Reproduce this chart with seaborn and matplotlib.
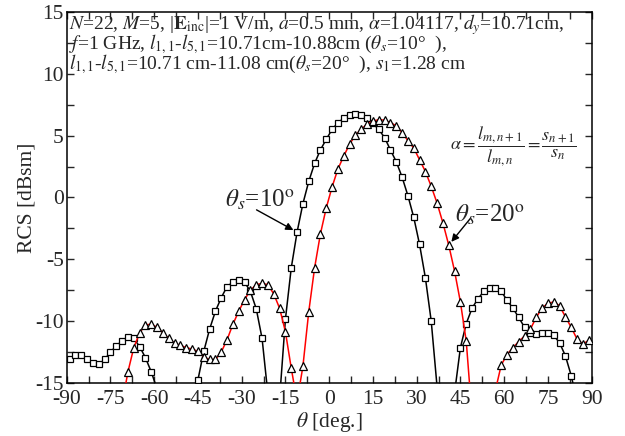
import numpy as np
import pandas as pd
import matplotlib
matplotlib.use("Agg")
import matplotlib.pyplot as plt
from matplotlib.ticker import MultipleLocator
import seaborn as sns

# Scan angle samples [deg]
theta_deg = [-89, -87, -85, -83, -81, -79, -77, -75, -73, -71,
             -69, -67, -65, -63, -61, -59, -57, -55, -53, -51,
             -49, -47, -45, -43, -41, -39, -37, -35, -33, -31,
             -29, -27, -25, -23, -21, -19, -17, -15, -13, -11,
             -9, -7, -5, -3, -1, 1, 3, 5, 7, 9,
             11, 13, 15, 17, 19, 21, 23, 25, 27, 29,
             31, 33, 35, 37, 39, 41, 43, 45, 47, 49,
             51, 53, 55, 57, 59, 61, 63, 65, 67, 69,
             71, 73, 75, 77, 79, 81, 83, 85, 87, 89]

# Bistatic RCS [dBsm], steering angle 10 deg
rcs_10 = [-13.1, -12.7, -12.7, -13.1, -13.4, -13.5, -13.1, -12.5, -12.0, -11.6,
          -11.25, -11.4, -12.05, -12.95, -14.1, -15.5, -18.0, -21.0, -24.0, -21.0,
          -18.5, -16.0, -14.75, -12.45, -10.65, -9.2, -8.1, -7.2, -6.85, -6.7,
          -6.85, -7.6, -9.0, -11.4, -15.9, -21.0, -16.3, -9.85, -5.7, -2.8,
          -0.5, 1.3, 2.75, 3.85, 4.7, 5.5, 6.05, 6.4, 6.65, 6.75,
          6.65, 6.4, 6.0, 5.5, 4.85, 3.85, 2.9, 1.65, 0.15, -1.6,
          -3.8, -6.5, -10.0, -15.3, -22.0, -21.0, -15.8, -12.15, -10.2, -8.95,
          -8.2, -7.6, -7.35, -7.35, -7.6, -8.3, -8.95, -9.7, -10.5, -10.95,
          -11.05, -10.95, -10.95, -11.15, -11.75, -12.8, -14.4, -16.5, -20.0, -23.0]

# Bistatic RCS [dBsm], steering angle 20 deg
rcs_20 = [-24.0, -22.0, -21.0, -22.0, -25.0, -28.0, -25.0, -21.0, -18.5, -16.7,
          -14.1, -12.15, -10.95, -10.3, -10.25, -10.5, -10.95, -11.4, -11.8, -11.95,
          -12.15, -12.25, -12.45, -12.9, -13.1, -13.1, -12.5, -11.5, -10.25, -9.2,
          -8.25, -7.5, -7.05, -6.95, -7.05, -7.8, -8.95, -10.85, -13.8, -16.5,
          -13.65, -9.25, -5.7, -2.95, -0.85, 0.85, 2.3, 3.35, 4.3, 5.05,
          5.5, 5.95, 6.15, 6.3, 6.25, 6.05, 5.8, 5.25, 4.6, 4.0,
          3.05, 2.1, 0.9, -0.45, -2.05, -3.85, -5.95, -8.45, -11.6, -17.7,
          -24.0, -26.0, -20.0, -15.6, -13.55, -12.7, -12.15, -11.65, -11.2, -10.65,
          -9.7, -8.95, -8.55, -8.45, -8.75, -9.65, -10.5, -11.45, -11.85, -11.55]

x_ticks = [-90, -75, -60, -45, -30, -15, 0, 15, 30, 45, 60, 75, 90]
y_ticks = [-15, -10, -5, 0, 5, 10, 15]

sns.set_style("ticks")
plt.rcParams["font.family"] = ["Liberation Serif", "DejaVu Serif"]
plt.rcParams["mathtext.fontset"] = "stix"
plt.rcParams["axes.unicode_minus"] = False

df10 = pd.DataFrame({"theta": theta_deg, "rcs": rcs_10})
df20 = pd.DataFrame({"theta": theta_deg, "rcs": rcs_20})

fig = plt.figure(figsize=(6.25, 4.36), dpi=100)
ax = fig.add_axes([0.1067, 0.1216, 0.8399, 0.8509])

sns.lineplot(data=df10, x="theta", y="rcs", ax=ax, color="black", lw=1.1,
             marker="s", markersize=5, markerfacecolor="white",
             markeredgecolor="black", markeredgewidth=0.9, zorder=3)
sns.lineplot(data=df20, x="theta", y="rcs", ax=ax, color="red", lw=1.1,
             marker="^", markersize=5.5, markerfacecolor="white",
             markeredgecolor="black", markeredgewidth=0.9, zorder=4)

ax.set_xlim(-90, 90)
ax.set_ylim(-15, 15)
ax.set_xticks(x_ticks)
ax.set_yticks(y_ticks)
ax.xaxis.set_minor_locator(MultipleLocator(7.5))
ax.yaxis.set_minor_locator(MultipleLocator(2.5))
ax.tick_params(which="both", direction="in", top=True, right=True,
               length=5, width=1.0, labelsize=15.5)
ax.tick_params(axis="x", pad=5)
ax.tick_params(axis="y", pad=2)
for s in ax.spines.values():
    s.set_linewidth(1.1)
    s.set_color("black")

ax.set_xlabel(r"$\theta$ [deg.]", fontsize=15.5, labelpad=0.5)
ax.set_ylabel("RCS [dBsm]", fontsize=15.5, labelpad=-1)

# Simulation parameters
txt_kw = dict(transform=ax.transAxes, fontsize=14, va="baseline", ha="left")
ax.text(0.004, 0.953,
        r"$N$=22, $M$=5, |$\mathbf{E}_{\rm inc}$|=1 V/m, $a$=0.5 mm, "
        r"$\alpha$=1.04117, $d_y$=10.71cm,", **txt_kw)
ax.text(0.004, 0.899,
        r"$f$=1 GHz, $l_{1,1}$-$l_{5,1}$=10.71cm-10.88cm ($\theta_s$=10°  ),",
        **txt_kw)
ax.text(0.004, 0.846,
        r"$l_{1,1}$-$l_{5,1}$=10.71 cm-11.08 cm($\theta_s$=20°  ), $s_1$=1.28 cm",
        **txt_kw)

ax.text(63, 4.1, r"$\alpha=\dfrac{l_{m,n+1}}{l_{m,n}}=\dfrac{s_{n+1}}{s_n}$",
        fontsize=13, ha="center", va="center")

arrow_kw = dict(arrowstyle="-|>", color="black", lw=1.0, mutation_scale=11,
                shrinkA=0, shrinkB=3)
i10 = theta_deg.index(-11)
i20 = theta_deg.index(41)
ax.annotate("", xy=(theta_deg[i10], rcs_10[i10]), xytext=(-24.9, -1.0),
            arrowprops=arrow_kw)
ax.annotate("", xy=(theta_deg[i20], rcs_20[i20]), xytext=(48.4, -1.7),
            arrowprops=arrow_kw)
ax.text(-35.7, -0.76, r"$\theta_s$=10$^{\rm o}$", fontsize=18, va="baseline")
ax.text(43.1, -1.98, r"$\theta_s$=20$^{\rm o}$", fontsize=18, va="baseline")

fig.savefig("out.png", dpi=100)
